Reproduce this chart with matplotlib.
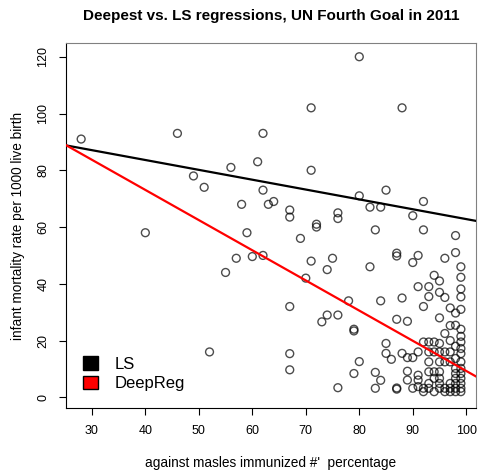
import matplotlib
matplotlib.use('Agg')
import matplotlib.pyplot as plt
from matplotlib.patches import Patch

plt.rcParams['font.family'] = ['Liberation Sans', 'DejaVu Sans']

# measles immunization (%) vs infant mortality (per 1000 live births)
immunized = [
    28, 46, 62, 80, 71, 88, 61, 56, 49, 51, 62, 58, 63, 64, 67, 67, 72, 72, 76, 76,
    71, 80, 82, 84, 85, 90, 92, 83, 92, 69, 98, 62, 60, 57, 59, 55, 40, 52, 71, 75,
    74, 82, 87, 87, 91, 90, 96, 98, 99, 70, 67, 78, 84, 88, 74, 73, 76, 79, 79, 87,
    89, 92, 93, 94, 95, 91, 93, 95, 96, 95, 97, 98, 99, 99, 99, 99, 97, 98, 99, 67,
    67, 76, 80, 79, 83, 84, 83, 85, 85, 86, 87, 87, 88, 89, 90, 91, 89, 89, 90, 91,
    91, 91, 92, 93, 94, 95, 93, 94, 95, 96, 97, 93, 95, 96, 97, 98, 99, 99, 99, 99,
    99, 92, 93, 93, 94, 94, 95, 95, 95, 95, 96, 97, 97, 98, 98, 98, 98, 98, 99, 99,
    99, 99, 99, 98, 97, 96, 94, 92, 97, 98, 99, 96, 93,
]
mortality = [
    91, 93, 93, 120, 102, 102, 83, 81, 78, 74, 73, 68, 68, 69, 66, 63.5, 61, 60, 65, 63,
    80, 71, 67, 67, 73, 64, 69, 59, 59, 56, 57, 50, 49.6, 49, 58, 44, 58, 16, 48, 49,
    45, 46, 50.8, 49.8, 50, 47.5, 49, 51, 46, 42, 32, 34, 34, 35, 29, 26.6, 29, 24, 23.4, 27.5,
    26.8, 32, 39, 43, 41, 39, 35.5, 37, 35.2, 28, 31.5, 29.7, 42.3, 38.2, 35.4, 31, 25.3, 25.4, 24, 15.4,
    9.7, 3.4, 12.6, 8.4, 8.8, 6, 3.2, 19, 15.5, 13.4, 2.9, 3.3, 15.5, 14, 14, 16, 9.2, 6.1, 3.2, 7.8,
    6.1, 3.8, 19.5, 19.5, 19.5, 19, 16, 16, 16, 16, 16, 12.5, 12.5, 12.5, 12.5, 13.7, 12.5, 17.2, 15.4, 19.5,
    21.5, 3.2, 4.9, 3.2, 6.7, 9, 6.7, 4.9, 3.2, 9, 3.2, 4.9, 3.2, 8.4, 6.7, 4.9, 3.2, 10.2, 10.2, 8.4,
    6.7, 4.9, 3.2, 18, 20, 2, 2, 2, 2, 2, 2, 22.5, 9,
]

ls_fit = (97.5, -0.347)       # intercept, slope
deep_fit = (115.6, -1.063)

fig = plt.figure(figsize=(4.78, 4.75), dpi=100)
ax = fig.add_axes([0.138, 0.141, 0.858, 0.768])

ax.scatter(immunized, mortality, s=32, facecolors='none',
           edgecolors=(0, 0, 0, 0.7), linewidths=1.0, zorder=2)
ax.axline((0, ls_fit[0]), slope=ls_fit[1], color='black', lw=1.6, zorder=3)
ax.axline((0, deep_fit[0]), slope=deep_fit[1], color='red', lw=1.6, zorder=3)

ax.set_xlim(25.16, 101.84)
ax.set_ylim(-3.76, 124.76)
ax.set_xticks(range(30, 101, 10))
ax.set_yticks(range(0, 121, 20))
ax.tick_params(labelsize=9, length=5, pad=7)
for lab in ax.get_yticklabels():
    lab.set_rotation(90)
    lab.set_va('center')
for s in ['top', 'right']:
    ax.spines[s].set_color('#808080')

ax.set_title('Deepest vs. LS regressions, UN Fourth Goal in 2011',
             fontsize=11, fontweight='bold', pad=17)
ax.set_xlabel("against masles immunized #'  percentage", fontsize=9.8, labelpad=14)
ax.set_ylabel('infant mortality rate per 1000 live birth', fontsize=9.8, labelpad=9)

handles = [Patch(facecolor='black', edgecolor='black', label='LS'),
           Patch(facecolor='red', edgecolor='black', label='DeepReg')]
ax.legend(handles=handles, loc='lower left', frameon=False, fontsize=12,
          handlelength=0.9, handleheight=0.85, handletextpad=1.0,
          labelspacing=0.25, borderaxespad=0.6)

fig.savefig('out.png', dpi=100)
